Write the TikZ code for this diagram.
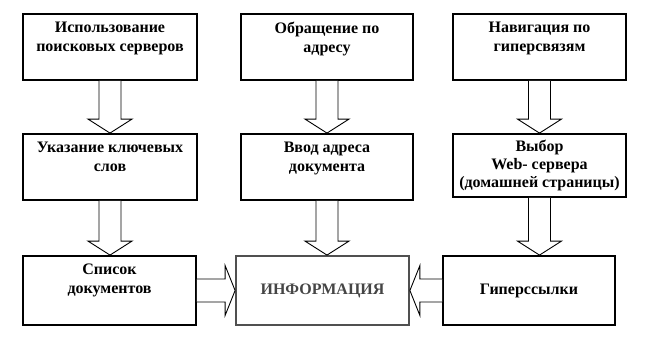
\documentclass[tikz,border=0pt]{standalone}
\usepackage{fontspec}
\setmainfont{Liberation Serif}
\usetikzlibrary{positioning, calc}

\definecolor{infoGray}{HTML}{505050}
\definecolor{infoText}{HTML}{454545}

% hollow block arrow going down from #1 to #2
\newcommand{\vArrow}[2]{%
  \draw[blockArrow] ($(#1.south)+(-11,0)$) -- ($(#1.south |- #2.north)+(-11,14)$)
    -- ++(-11,0) -- (#1.south |- #2.north) -- ++(22,14) -- ++(-11,0)
    -- ($(#1.south)+(11,0)$);}
% hollow block arrow going sideways from #1 to #2, #3 = direction (1 or -1)
\newcommand{\hArrow}[3]{%
  \draw[blockArrow] ($(#1)+(0,11.5)$) -- ($(#2)+({-10*(#3)},11.5)$)
    -- ($(#2)+({-10*(#3)},25)$) -- (#2) -- ($(#2)+({-10*(#3)},-25)$)
    -- ($(#2)+({-10*(#3)},-11.5)$) -- ($(#1)+(0,-11.5)$);}

\begin{document}
\begin{tikzpicture}[
        x=1pt, y=1pt,
        box/.style={draw, line width=1.8pt, minimum height=66pt, inner sep=0pt},
        boxText/.style={align=center, inner sep=0pt, font=\fontsize{16}{19}\selectfont\bfseries},
        blockArrow/.style={draw, line width=0.9pt, fill=white, line join=miter}
    ]
        \useasboundingbox (0,0) rectangle (654,343);

        % top row
        \node[box, minimum width=174pt] (search) at (110,296) {};
        \node[boxText, below=9pt of search.north] (searchText) {Использование\\поисковых серверов};
        \node[box, minimum width=172pt] (address) at (327,296) {};
        \node[boxText, below=9pt of address.north] (addressText) {Обращение по\\адресу};
        \node[box, minimum width=173pt] (navigate) at (539.5,296) {};
        \node[boxText, below=9pt of navigate.north] (navigateText) {Навигация по\\гиперсвязям};

        % middle row
        \node[box, minimum width=174pt] (keywords) at (110,176) {};
        \node[boxText, below=9pt of keywords.north] (keywordsText) {Указание ключевых\\слов};
        \node[box, minimum width=172pt] (enterAddress) at (327,176) {};
        \node[boxText, below=9pt of enterAddress.north] (enterAddressText) {Ввод адреса\\документа};
        \node[box, minimum width=173pt, minimum height=63pt] (webServer) at (539.5,177.5) {};
        \node[boxText, below=7pt of webServer.north, font=\fontsize{16}{18}\selectfont\bfseries] (webServerText) {Выбор\\Web- сервера\\(домашней страницы)};

        % bottom row
        \node[box, minimum width=173pt, minimum height=69pt] (docList) at (109.5,52.5) {};
        \node[boxText, below=9pt of docList.north] (docListText) {Список\\документов};
        \node[box, draw=infoGray, text=infoText, font=\fontsize{16}{19}\selectfont\bfseries,
            minimum width=173pt, minimum height=69pt] (info) at (322.5,52.5) {ИНФОРМАЦИЯ};
        \node[box, font=\fontsize{16}{19}\selectfont\bfseries,
            minimum width=172pt, minimum height=69pt] (hyperlinks) at (529,52.5) {Гиперссылки};

        \vArrow{search}{keywords}
        \vArrow{address}{enterAddress}
        \vArrow{navigate}{webServer}
        \vArrow{keywords}{docList}
        \vArrow{enterAddress}{info}
        \vArrow{webServer}{hyperlinks}
        \hArrow{docList.east}{info.west}{1}
        \hArrow{hyperlinks.west}{info.east}{-1}
    \end{tikzpicture}
\end{document}
